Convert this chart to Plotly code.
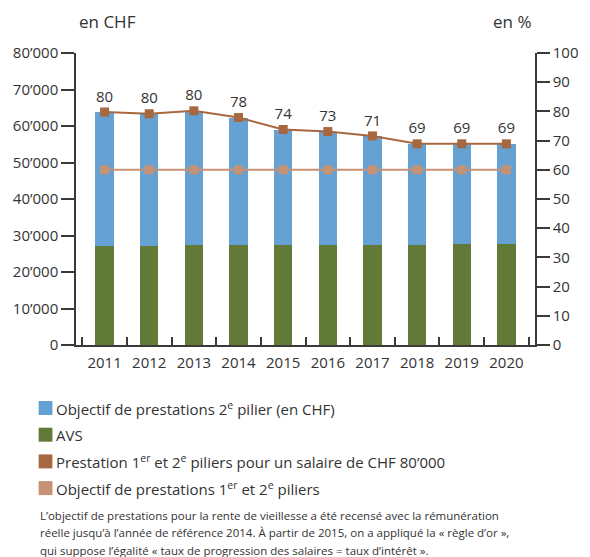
import plotly.graph_objects as go

years = ["2011", "2012", "2013", "2014", "2015", "2016", "2017", "2018", "2019", "2020"]
avs = [27000, 27000, 27400, 27400, 27400, 27400, 27400, 27400, 27700, 27700]
objectif_2e = [36800, 36300, 36700, 34900, 31600, 31000, 29800, 27600, 27400, 27400]
prestation_pct = [79.8, 79.2, 80.2, 77.9, 73.8, 73.1, 71.6, 68.9, 68.9, 68.9]
prestation_labels = ["80", "80", "80", "78", "74", "73", "71", "69", "69", "69"]
objectif_pct = [60, 60, 60, 60, 60, 60, 60, 60, 60, 60]
left_ticks = [0, 10000, 20000, 30000, 40000, 50000, 60000, 70000, 80000]
left_tick_text = ["0", "10’000", "20’000", "30’000", "40’000", "50’000", "60’000", "70’000", "80’000"]
legend_labels = [
    "Objectif de prestations 2<sup>e</sup> pilier (en CHF)",
    "AVS",
    "Prestation 1<sup>er</sup> et 2<sup>e</sup> piliers pour un salaire de CHF 80’000",
    "Objectif de prestations 1<sup>er</sup> et 2<sup>e</sup> piliers",
]
footnote_lines = [
    "L’objectif de prestations pour la rente de vieillesse a été recensé avec la rémunération",
    "réelle jusqu’à l’année de référence 2014. À partir de 2015, on a appliqué la « règle d’or »,",
    "qui suppose l’égalité « taux de progression des salaires = taux d’intérêt ».",
]

BLUE = "#65a1d3"
GREEN = "#627a37"
DARK = "#a8683f"
LIGHT = "#c69273"
TXT = "#333333"
AX = "#3a3a3a"
FONT = "Open Sans"

W, H = 590, 557
L, R, T, B = 76, 47, 53, 212
PW, PH = W - L - R, H - T - B


def px(x):
    return (x - L) / PW


def py(y):
    return (H - B - y) / PH


fig = go.Figure()
fig.add_trace(go.Bar(x=years, y=avs, name="AVS", marker=dict(color=GREEN, line=dict(width=0))))
fig.add_trace(go.Bar(x=years, y=objectif_2e, name="Objectif 2e pilier",
                     marker=dict(color=BLUE, line=dict(width=0))))
fig.add_trace(go.Scatter(x=years, y=objectif_pct, yaxis="y2", mode="lines+markers",
                         line=dict(color=LIGHT, width=2), marker=dict(symbol="square", size=9, color=LIGHT)))
fig.add_trace(go.Scatter(x=years, y=prestation_pct, yaxis="y2", mode="lines+markers+text",
                         text=prestation_labels, textposition="top center",
                         textfont=dict(size=15, color=TXT, family=FONT),
                         line=dict(color=DARK, width=2), marker=dict(symbol="square", size=9, color=DARK)))

fig.update_layout(
    width=W, height=H,
    margin=dict(l=L, r=R, t=T, b=B),
    paper_bgcolor="white", plot_bgcolor="white",
    barmode="stack", bargap=0.59, showlegend=False,
    font=dict(family=FONT, size=15, color=TXT),
    xaxis=dict(type="category", showline=True, linecolor=AX, linewidth=1.5,
               ticks="inside", tickson="boundaries", ticklen=8, tickcolor=AX, tickwidth=1.5,
               ticklabelstandoff=3,
               tickfont=dict(size=15, color=TXT), showgrid=False, zeroline=False),
    yaxis=dict(range=[0, 80000], tickvals=left_ticks, ticktext=left_tick_text,
               showline=True, linecolor=AX, linewidth=1.5, ticks="outside", ticklen=13,
               tickcolor=AX, tickwidth=1.5, showgrid=False, zeroline=False,
               tickfont=dict(size=15, color=TXT)),
    yaxis2=dict(range=[0, 100], dtick=10, overlaying="y", side="right",
                showline=True, linecolor=AX, linewidth=1.5, ticks="outside", ticklen=13,
                tickcolor=AX, tickwidth=1.5, showgrid=False, zeroline=False,
                tickfont=dict(size=15, color=TXT)),
)

fig.add_annotation(text="en CHF", xref="paper", yref="paper", x=px(77), y=py(21),
                   xanchor="left", yanchor="middle", showarrow=False, font=dict(size=17, color=TXT))
fig.add_annotation(text="en %", xref="paper", yref="paper", x=px(541), y=py(21),
                   xanchor="right", yanchor="middle", showarrow=False, font=dict(size=17, color=TXT))

# legend (swatches + labels)
legend_colors = [BLUE, GREEN, DARK, LIGHT]
for i, (lab, col) in enumerate(zip(legend_labels, legend_colors)):
    cy = 408 + 26.7 * i
    fig.add_shape(type="rect", xref="paper", yref="paper",
                  x0=px(38), x1=px(52), y0=py(cy - 7), y1=py(cy + 7),
                  fillcolor=col, line=dict(width=0))
    fig.add_annotation(text=lab, xref="paper", yref="paper", x=px(54), y=py(cy),
                       xanchor="left", yanchor="middle", showarrow=False,
                       font=dict(size=15, color=TXT))

for i, line in enumerate(footnote_lines):
    fig.add_annotation(text=line, xref="paper", yref="paper", x=px(37), y=py(515 + 17.5 * i),
                       xanchor="left", yanchor="middle", showarrow=False,
                       font=dict(size=11.5, color=TXT))

fig.write_html("out.html", config={"displayModeBar": False},
               post_script="document.body.style.margin='0';document.body.style.overflow='hidden';")
